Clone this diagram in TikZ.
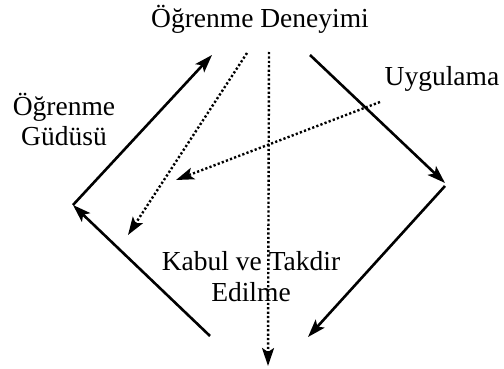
\documentclass[tikz,border=0pt]{standalone}
\usepackage{fontspec}
\setmainfont{Liberation Serif}
\usetikzlibrary{arrows.meta}
\begin{document}
\begin{tikzpicture}[x=1pt,y=-1pt,
  lbl/.style={inner sep=0pt,font=\fontsize{27.5}{30.5}\selectfont,align=center,anchor=base},
  solidarr/.style={line width=2.6pt,-{Stealth[length=18pt,width=12pt,inset=4pt]}},
  dotarr/.style={line width=2.4pt,dash pattern=on 2.2pt off 2.2pt,-{Stealth[length=18pt,width=12pt,inset=4pt]}}]
\useasboundingbox (0,0) rectangle (504,369);
\node[lbl] (title) at (260,28) {Öğrenme Deneyimi};
\node[lbl] (uyg) at (442,86) {Uygulama};
\node[lbl] (gud) at (64,146) {Öğrenme\\Güdüsü};
\node[lbl] (kabul) at (251,301) {Kabul ve Takdir\\Edilme};
\coordinate (L) at (73,205);
\coordinate (R) at (445,186);
\coordinate (TL) at (212,55);
\coordinate (TR) at (310,55);
\coordinate (BL) at (210,336);
\coordinate (BR) at (308,337);
\coordinate (d1s) at (247,53);
\coordinate (d1e) at (128,235);
\coordinate (d2s) at (269,52);
\coordinate (d2e) at (268,366);
\coordinate (d3s) at (380,102);
\coordinate (d3e) at (176,180);
\coordinate (Rtip) at (445,183);
\draw[solidarr] (BL) -- (L);
\draw[solidarr] (L) -- (TL);
\draw[solidarr] (TR) -- (Rtip);
\draw[solidarr] (R) -- (BR);
\draw[dotarr] (d1s) -- (d1e);
\draw[dotarr] (d2s) -- (d2e);
\draw[dotarr] (d3s) -- (d3e);
\end{tikzpicture}
\end{document}
